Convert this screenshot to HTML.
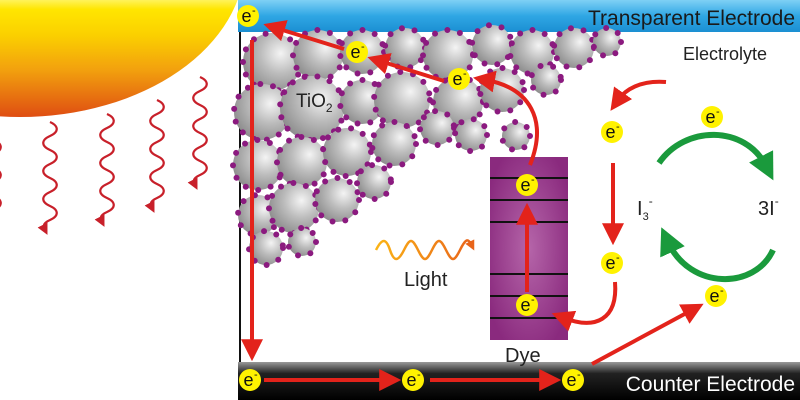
<!DOCTYPE html>
<html><head><meta charset="utf-8"><style>
html,body{margin:0;padding:0;background:#fff}
svg{display:block}
text{font-family:"Liberation Sans",sans-serif}
</style></head><body>
<svg width="800" height="400" viewBox="0 0 800 400" xmlns="http://www.w3.org/2000/svg">
<defs>
<linearGradient id="sun" gradientUnits="userSpaceOnUse" x1="0" y1="0" x2="0" y2="117">
<stop offset="0" stop-color="#fff35a"/><stop offset="0.08" stop-color="#ffe600"/><stop offset="0.3" stop-color="#fbd000"/><stop offset="0.6" stop-color="#f2a00e"/><stop offset="1" stop-color="#df4d12"/></linearGradient>
<linearGradient id="blue" x1="0" y1="0" x2="0" y2="1"><stop offset="0" stop-color="#7fd0f5"/><stop offset="0.5" stop-color="#2fa6e4"/><stop offset="1" stop-color="#1b8fd2"/></linearGradient>
<linearGradient id="dark" x1="0" y1="0" x2="0" y2="1"><stop offset="0" stop-color="#999"/><stop offset="0.3" stop-color="#222"/><stop offset="1" stop-color="#000"/></linearGradient>
<radialGradient id="ball" cx="0.65" cy="0.35" r="0.7"><stop offset="0" stop-color="#f4f4f4"/><stop offset="0.5" stop-color="#bcbcbc"/><stop offset="1" stop-color="#8e8e8e"/></radialGradient>
<radialGradient id="dye" cx="0.5" cy="0.5" r="0.6"><stop offset="0" stop-color="#b565a9"/><stop offset="1" stop-color="#8a2a7e"/></radialGradient>
<linearGradient id="light" x1="0" y1="0" x2="1" y2="0"><stop offset="0" stop-color="#fbb416"/><stop offset="1" stop-color="#e8641a"/></linearGradient>
<marker id="ar" viewBox="0 0 10 10" refX="4" refY="5" markerWidth="5.5" markerHeight="5.5" orient="auto"><path d="M0,0 L10,5 L0,10 z" fill="#e3231b"/></marker>
<marker id="ag" viewBox="0 0 10 10" refX="4" refY="5" markerWidth="4.5" markerHeight="4.5" orient="auto"><path d="M0,0 L10,5 L0,10 z" fill="#1a9a3c"/></marker>
<marker id="aw" viewBox="0 0 10 10" refX="5" refY="5" markerWidth="5" markerHeight="5" orient="auto"><path d="M0,0 L10,5 L0,10 z" fill="#c8202a"/></marker>
<marker id="ao" viewBox="0 0 10 10" refX="5" refY="5" markerWidth="4" markerHeight="4" orient="auto"><path d="M0,0 L10,5 L0,10 z" fill="#e8641a"/></marker>
<g id="el"><circle r="11" fill="#fff200"/><text x="-6.5" y="6" font-size="18" fill="#111">e</text><text x="4" y="-2" font-size="11" fill="#111">-</text></g>
<path id="wave" d="M0,0 c9,4 9,10 0,14 c-9,4 -9,10 0,14 c9,4 9,10 0,14 c-9,4 -9,10 0,14 c9,4 9,10 0,14 c-9,4 -9,10 0,14 c9,4 9,10 0,14 c-9,4 -6,8 -5,10" fill="none" stroke="#c8202a" stroke-width="2.2" marker-end="url(#aw)"/>
</defs>
<ellipse cx="20" cy="-40" rx="225" ry="157" fill="url(#sun)"/>
<use href="#wave" x="50" y="122"/>
<use href="#wave" x="107" y="114"/>
<use href="#wave" x="157" y="100"/>
<use href="#wave" x="200" y="77"/>
<path d="M-6,140 c9,4 9,10 0,14 c-9,4 -9,10 0,14 c9,4 9,10 0,14 c-9,4 -9,10 0,14 c9,4 9,10 0,14 c-9,4 -9,10 0,14" fill="none" stroke="#c8202a" stroke-width="2.2"/>
<rect x="238" y="0" width="562" height="32" fill="url(#blue)"/>
<rect x="238" y="362" width="562" height="38" fill="url(#dark)"/>
<line x1="240" y1="32" x2="240" y2="362" stroke="#111" stroke-width="2"/>
<text x="795" y="25" font-size="21" text-anchor="end" fill="#1a1a1a">Transparent Electrode</text>
<text x="795" y="391" font-size="21" text-anchor="end" fill="#fff">Counter Electrode</text>
<g fill="url(#ball)" stroke="#8b1a7f" stroke-width="6" stroke-linecap="round" stroke-dasharray="0 13">
<circle cx="272" cy="62" r="29"/><circle cx="318" cy="55" r="25"/><circle cx="362" cy="52" r="22"/><circle cx="405" cy="48" r="20"/><circle cx="448" cy="55" r="25"/><circle cx="492" cy="45" r="20"/><circle cx="532" cy="52" r="22"/><circle cx="574" cy="48" r="20"/><circle cx="607" cy="42" r="14"/><circle cx="546" cy="80" r="15"/>
<circle cx="262" cy="112" r="28"/><circle cx="312" cy="108" r="32"/><circle cx="362" cy="102" r="22"/><circle cx="402" cy="100" r="28"/><circle cx="458" cy="102" r="25"/><circle cx="502" cy="90" r="22"/><circle cx="516" cy="136" r="14"/>
<circle cx="258" cy="165" r="25"/><circle cx="302" cy="162" r="25"/><circle cx="347" cy="152" r="24"/><circle cx="394" cy="144" r="22"/><circle cx="437" cy="128" r="17"/><circle cx="471" cy="135" r="16"/>
<circle cx="258" cy="215" r="20"/><circle cx="294" cy="208" r="25"/><circle cx="337" cy="200" r="22"/><circle cx="374" cy="182" r="17"/><circle cx="266" cy="248" r="17"/><circle cx="302" cy="242" r="14"/>
</g>
<text x="296" y="107" font-size="19" fill="#222">TiO<tspan font-size="12" dy="5">2</tspan></text>
<rect x="490" y="157" width="78" height="183" fill="url(#dye)"/>
<g stroke="#111" stroke-width="2"><line x1="490" y1="178" x2="568" y2="178"/><line x1="490" y1="200" x2="568" y2="200"/><line x1="490" y1="222" x2="568" y2="222"/><line x1="490" y1="274" x2="568" y2="274"/><line x1="490" y1="296" x2="568" y2="296"/><line x1="490" y1="318" x2="568" y2="318"/></g>
<text x="505" y="362" font-size="20" fill="#222">Dye</text>
<path d="M376,250 c6,-12 10,-12 14,0 s8,12 14,0 s8,-12 14,0 s8,12 14,0 s8,-12 14,0 s8,12 14,0 s8,-12 12,-4" fill="none" stroke="url(#light)" stroke-width="2.5" marker-end="url(#ao)"/>
<text x="404" y="286" font-size="20" fill="#222">Light</text>
<g fill="none" stroke="#e3231b" stroke-width="4" marker-end="url(#ar)">
<line x1="252" y1="40" x2="252" y2="348"/>
<line x1="444" y1="81" x2="380" y2="61"/>
<line x1="344" y1="49" x2="276" y2="28"/>
<path d="M530,165 C548,120 530,88 486,80"/>
<line x1="527" y1="292" x2="527" y2="216"/>
<path d="M615,282 C618,320 595,330 564,318"/>
<line x1="613" y1="163" x2="613" y2="232"/>
<path d="M666,82 C640,80 625,90 618,100"/>
<line x1="264" y1="380" x2="388" y2="380"/>
<line x1="430" y1="380" x2="548" y2="380"/>
<line x1="592" y1="364" x2="692" y2="310"/>
</g>
<g fill="none" stroke="#1a9a3c" stroke-width="6" marker-end="url(#ag)">
<path d="M659,163 C685,125 745,125 766,166"/>
<path d="M773,250 C755,290 690,290 668,242"/>
</g>
<text x="683" y="60" font-size="18" fill="#222">Electrolyte</text>
<text x="637" y="215" font-size="20" fill="#222">I<tspan font-size="11" dy="5">3</tspan><tspan font-size="12" dy="-15">-</tspan></text>
<text x="758" y="215" font-size="20" fill="#222">3I<tspan font-size="12" dy="-10">-</tspan></text>
<use href="#el" x="248" y="16"/><use href="#el" x="357" y="52"/><use href="#el" x="459" y="79"/>
<use href="#el" x="527" y="185"/><use href="#el" x="527" y="305"/>
<use href="#el" x="612" y="132"/><use href="#el" x="612" y="263"/>
<use href="#el" x="712" y="117"/><use href="#el" x="716" y="296"/>
<use href="#el" x="250" y="380"/><use href="#el" x="413" y="380"/><use href="#el" x="573" y="380"/>
</svg>
</body></html>
